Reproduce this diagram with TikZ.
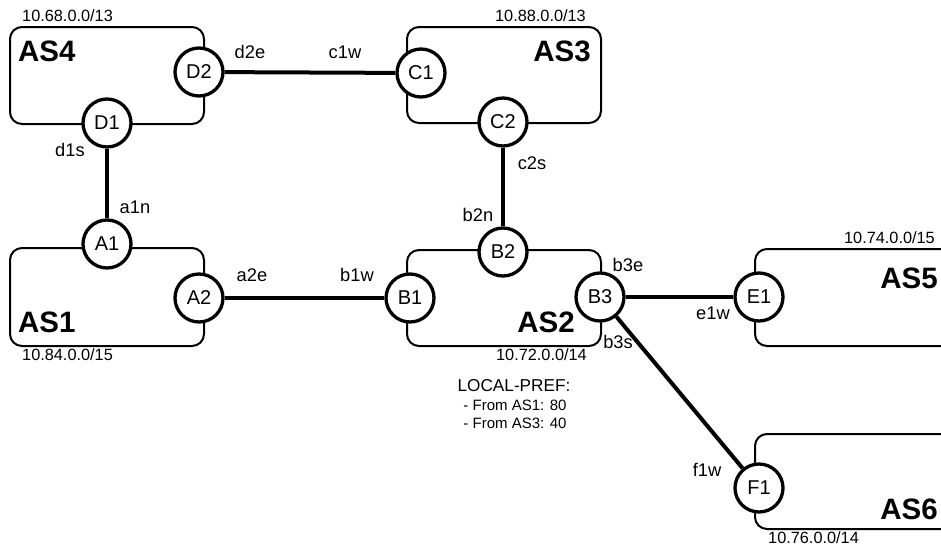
\documentclass[tikz,border=0pt]{standalone}
\usepackage{fontspec}
\setmainfont{Liberation Sans}
\begin{document}
\begin{tikzpicture}[x=1pt,y=-1pt,
  asbox/.style={draw, line width=2pt, rounded corners=12pt, inner sep=0pt, anchor=north west},
  router/.style={circle, draw, fill=white, line width=3.3pt, minimum size=48pt, inner sep=0pt, font=\fontsize{20}{24}\selectfont},
  link/.style={line width=4pt},
  lbl/.style={font=\fontsize{18.3}{22}\selectfont, inner sep=0pt},
  pfx/.style={font=\fontsize{16.3}{19}\selectfont, inner sep=0pt},
  note/.style={font=\fontsize{15}{18}\selectfont, inner sep=0pt},
  asname/.style={font=\fontsize{29.5}{34}\selectfont\bfseries, inner sep=0pt}
]
\useasboundingbox (0,0) rectangle (941,549);
% AS boxes
\node[asbox, minimum width=194pt, minimum height=97pt] (as4) at (9,26) {};
\node[asbox, minimum width=194pt, minimum height=96pt] (as3) at (406,26) {};
\node[asbox, minimum width=194pt, minimum height=98pt] (as1) at (9,247) {};
\node[asbox, minimum width=194pt, minimum height=96pt] (as2) at (406,249) {};
\node[asbox, minimum width=206pt, minimum height=97pt] (as5) at (754,248) {};
\node[asbox, minimum width=206pt, minimum height=95pt] (as6) at (754,433) {};
% AS names
\node[asname, anchor=west] (n4) at (18,51) {AS4};
\node[asname, anchor=east] (n3) at (591,51) {AS3};
\node[asname, anchor=west] (n1) at (18,322) {AS1};
\node[asname, anchor=east] (n2) at (575,322) {AS2};
\node[asname, anchor=east] (n5) at (938,278) {AS5};
\node[asname, anchor=east] (n6) at (938,509) {AS6};
% prefixes
\node[pfx, anchor=west] (p4) at (22,16) {10.68.0.0/13};
\node[pfx, anchor=east] (p3) at (586,16) {10.88.0.0/13};
\node[pfx, anchor=west] (p1) at (22,355) {10.84.0.0/15};
\node[pfx, anchor=east] (p2) at (587,355) {10.72.0.0/14};
\node[pfx, anchor=east] (p5) at (935,238) {10.74.0.0/15};
\node[pfx, anchor=west] (p6) at (768,538) {10.76.0.0/14};
% routers
\node[router] (D2) at (199,72) {D2};
\node[router] (D1) at (107,123) {D1};
\node[router] (C1) at (421,73) {C1};
\node[router] (C2) at (503,122) {C2};
\node[router] (A1) at (107,244) {A1};
\node[router] (A2) at (199,298) {A2};
\node[router] (B1) at (410,298) {B1};
\node[router] (B2) at (503,252) {B2};
\node[router] (B3) at (600,297) {B3};
\node[router] (E1) at (759,297) {E1};
\node[router] (F1) at (759,488) {F1};
% links
\draw[link] (D2) -- (C1);
\draw[link] (D1) -- (A1);
\draw[link] (A2) -- (B1);
\draw[link] (C2) -- (B2);
\draw[link] (B3) -- (E1);
\draw[link] (B3) -- (F1);
% interface labels
\node[lbl] (ld2e) at (250,52) {d2e};
\node[lbl] (lc1w) at (345,52) {c1w};
\node[lbl] (ld1s) at (70,150) {d1s};
\node[lbl] (la1n) at (135,207) {a1n};
\node[lbl] (la2e) at (252,275) {a2e};
\node[lbl] (lb1w) at (357,275) {b1w};
\node[lbl] (lb2n) at (478,215) {b2n};
\node[lbl] (lc2s) at (532,163) {c2s};
\node[lbl] (lb3e) at (628,265) {b3e};
\node[lbl] (lb3s) at (618,342) {b3s};
\node[lbl] (le1w) at (713,313) {e1w};
\node[lbl] (lf1w) at (707,470) {f1w};
% local pref note
\node[inner sep=0pt, font=\fontsize{17.2}{20}\selectfont] (lp) at (514,386) {LOCAL-PREF:};
\node[note] (lp1) at (515,405) {- From AS1: 80};
\node[note] (lp2) at (515,423) {- From AS3: 40};
\end{tikzpicture}
\end{document}
